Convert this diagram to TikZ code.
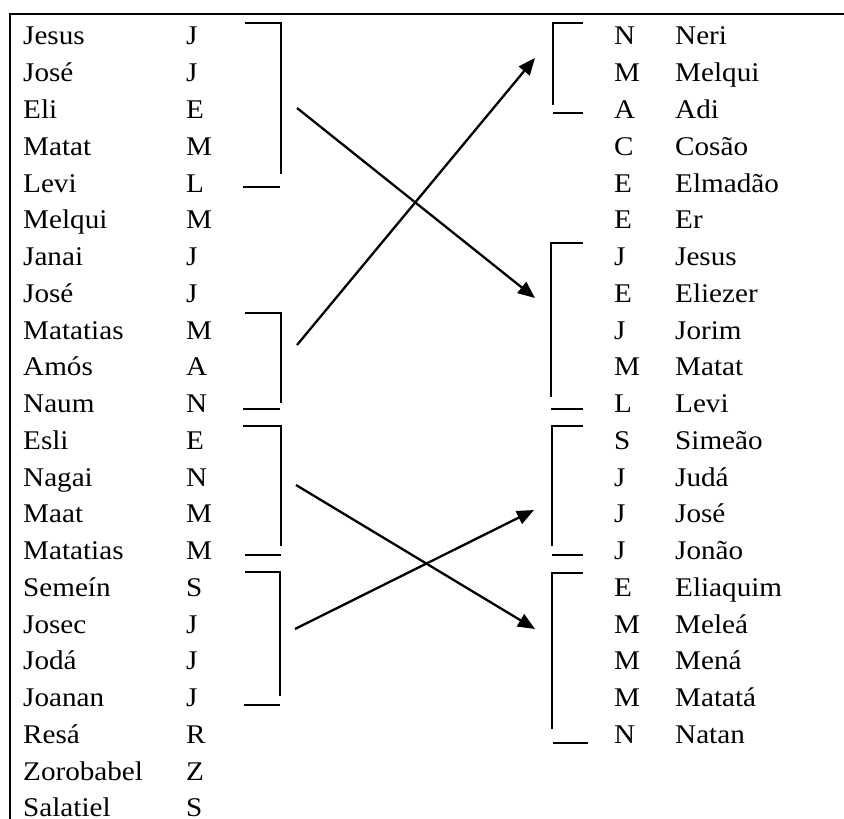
\documentclass[tikz,border=0pt]{standalone}
\usepackage{fontspec}
\setmainfont{Liberation Serif}[FakeStretch=1.08]
\usetikzlibrary{arrows.meta}

\tikzset{
  txt/.style={anchor=base west, inner sep=0pt, font=\fontsize{27}{31}\selectfont},
  frame/.style={line width=2.5pt},
  brace/.style={line width=1.7pt},
  link/.style={line width=2.3pt, -{Triangle[length=17pt,width=14pt]}}
}

\begin{document}
\begin{tikzpicture}[x=1pt,y=-1pt]
\useasboundingbox (0,0) rectangle (844,819);

% outer frame (top and left edges)
\draw[frame] (10,819) -- (10,14) -- (844,14);

% left column: names and initials
\foreach \n/\c [count=\i from 0] in {Jesus/J, José/J, Eli/E, Matat/M, Levi/L,
    Melqui/M, Janai/J, José/J, Matatias/M, Amós/A, Naum/N, Esli/E, Nagai/N,
    Maat/M, Matatias/M, Semeín/S, Josec/J, Jodá/J, Joanan/J, Resá/R,
    Zorobabel/Z, Salatiel/S} {
  \node[txt] (ln\i) at (23,{45+36.75*\i}) {\n};
  \node[txt] (lc\i) at (186,{45+36.75*\i}) {\c};
}

% right column: initials and names
\foreach \c/\n [count=\i from 0] in {N/Neri, M/Melqui, A/Adi, C/Cosão,
    E/Elmadão, E/Er, J/Jesus, E/Eliezer, J/Jorim, M/Matat, L/Levi,
    S/Simeão, J/Judá, J/José, J/Jonão, E/Eliaquim, M/Meleá, M/Mená,
    M/Matatá, N/Natan} {
  \node[txt] (rc\i) at (614,{45+36.75*\i}) {\c};
  \node[txt] (rn\i) at (675,{45+36.75*\i}) {\n};
}

% left brackets
\draw[brace] (245,23) -- (281,23) -- (281,174);
\draw[brace] (243,187) -- (280,187);
\draw[brace] (245,313) -- (281,313) -- (281,403);
\draw[brace] (243,409) -- (280,409);
\draw[brace] (243,426) -- (281,426) -- (281,546);
\draw[brace] (245,555) -- (281,555);
\draw[brace] (245,572) -- (280,572) -- (280,696);
\draw[brace] (244,705) -- (280,705);

% right brackets
\draw[brace] (583,23) -- (553,23) -- (553,105);
\draw[brace] (553,113) -- (583,113);
\draw[brace] (583,243) -- (551,243) -- (551,397);
\draw[brace] (551,409) -- (583,409);
\draw[brace] (583,426) -- (552,426) -- (552,546);
\draw[brace] (552,555) -- (583,555);
\draw[brace] (583,573) -- (552,573) -- (552,729);
\draw[brace] (553,743) -- (588,743);

% arrow end points
\coordinate (s1) at (297,108);
\coordinate (t1) at (535,298);
\coordinate (s2) at (297,345);
\coordinate (t2) at (535,58);
\coordinate (s3) at (296,485);
\coordinate (t3) at (535,629);
\coordinate (s4) at (295,629);
\coordinate (t4) at (534,510);

\draw[link] (s1) -- (t1);
\draw[link] (s2) -- (t2);
\draw[link] (s3) -- (t3);
\draw[link] (s4) -- (t4);
\end{tikzpicture}
\end{document}
